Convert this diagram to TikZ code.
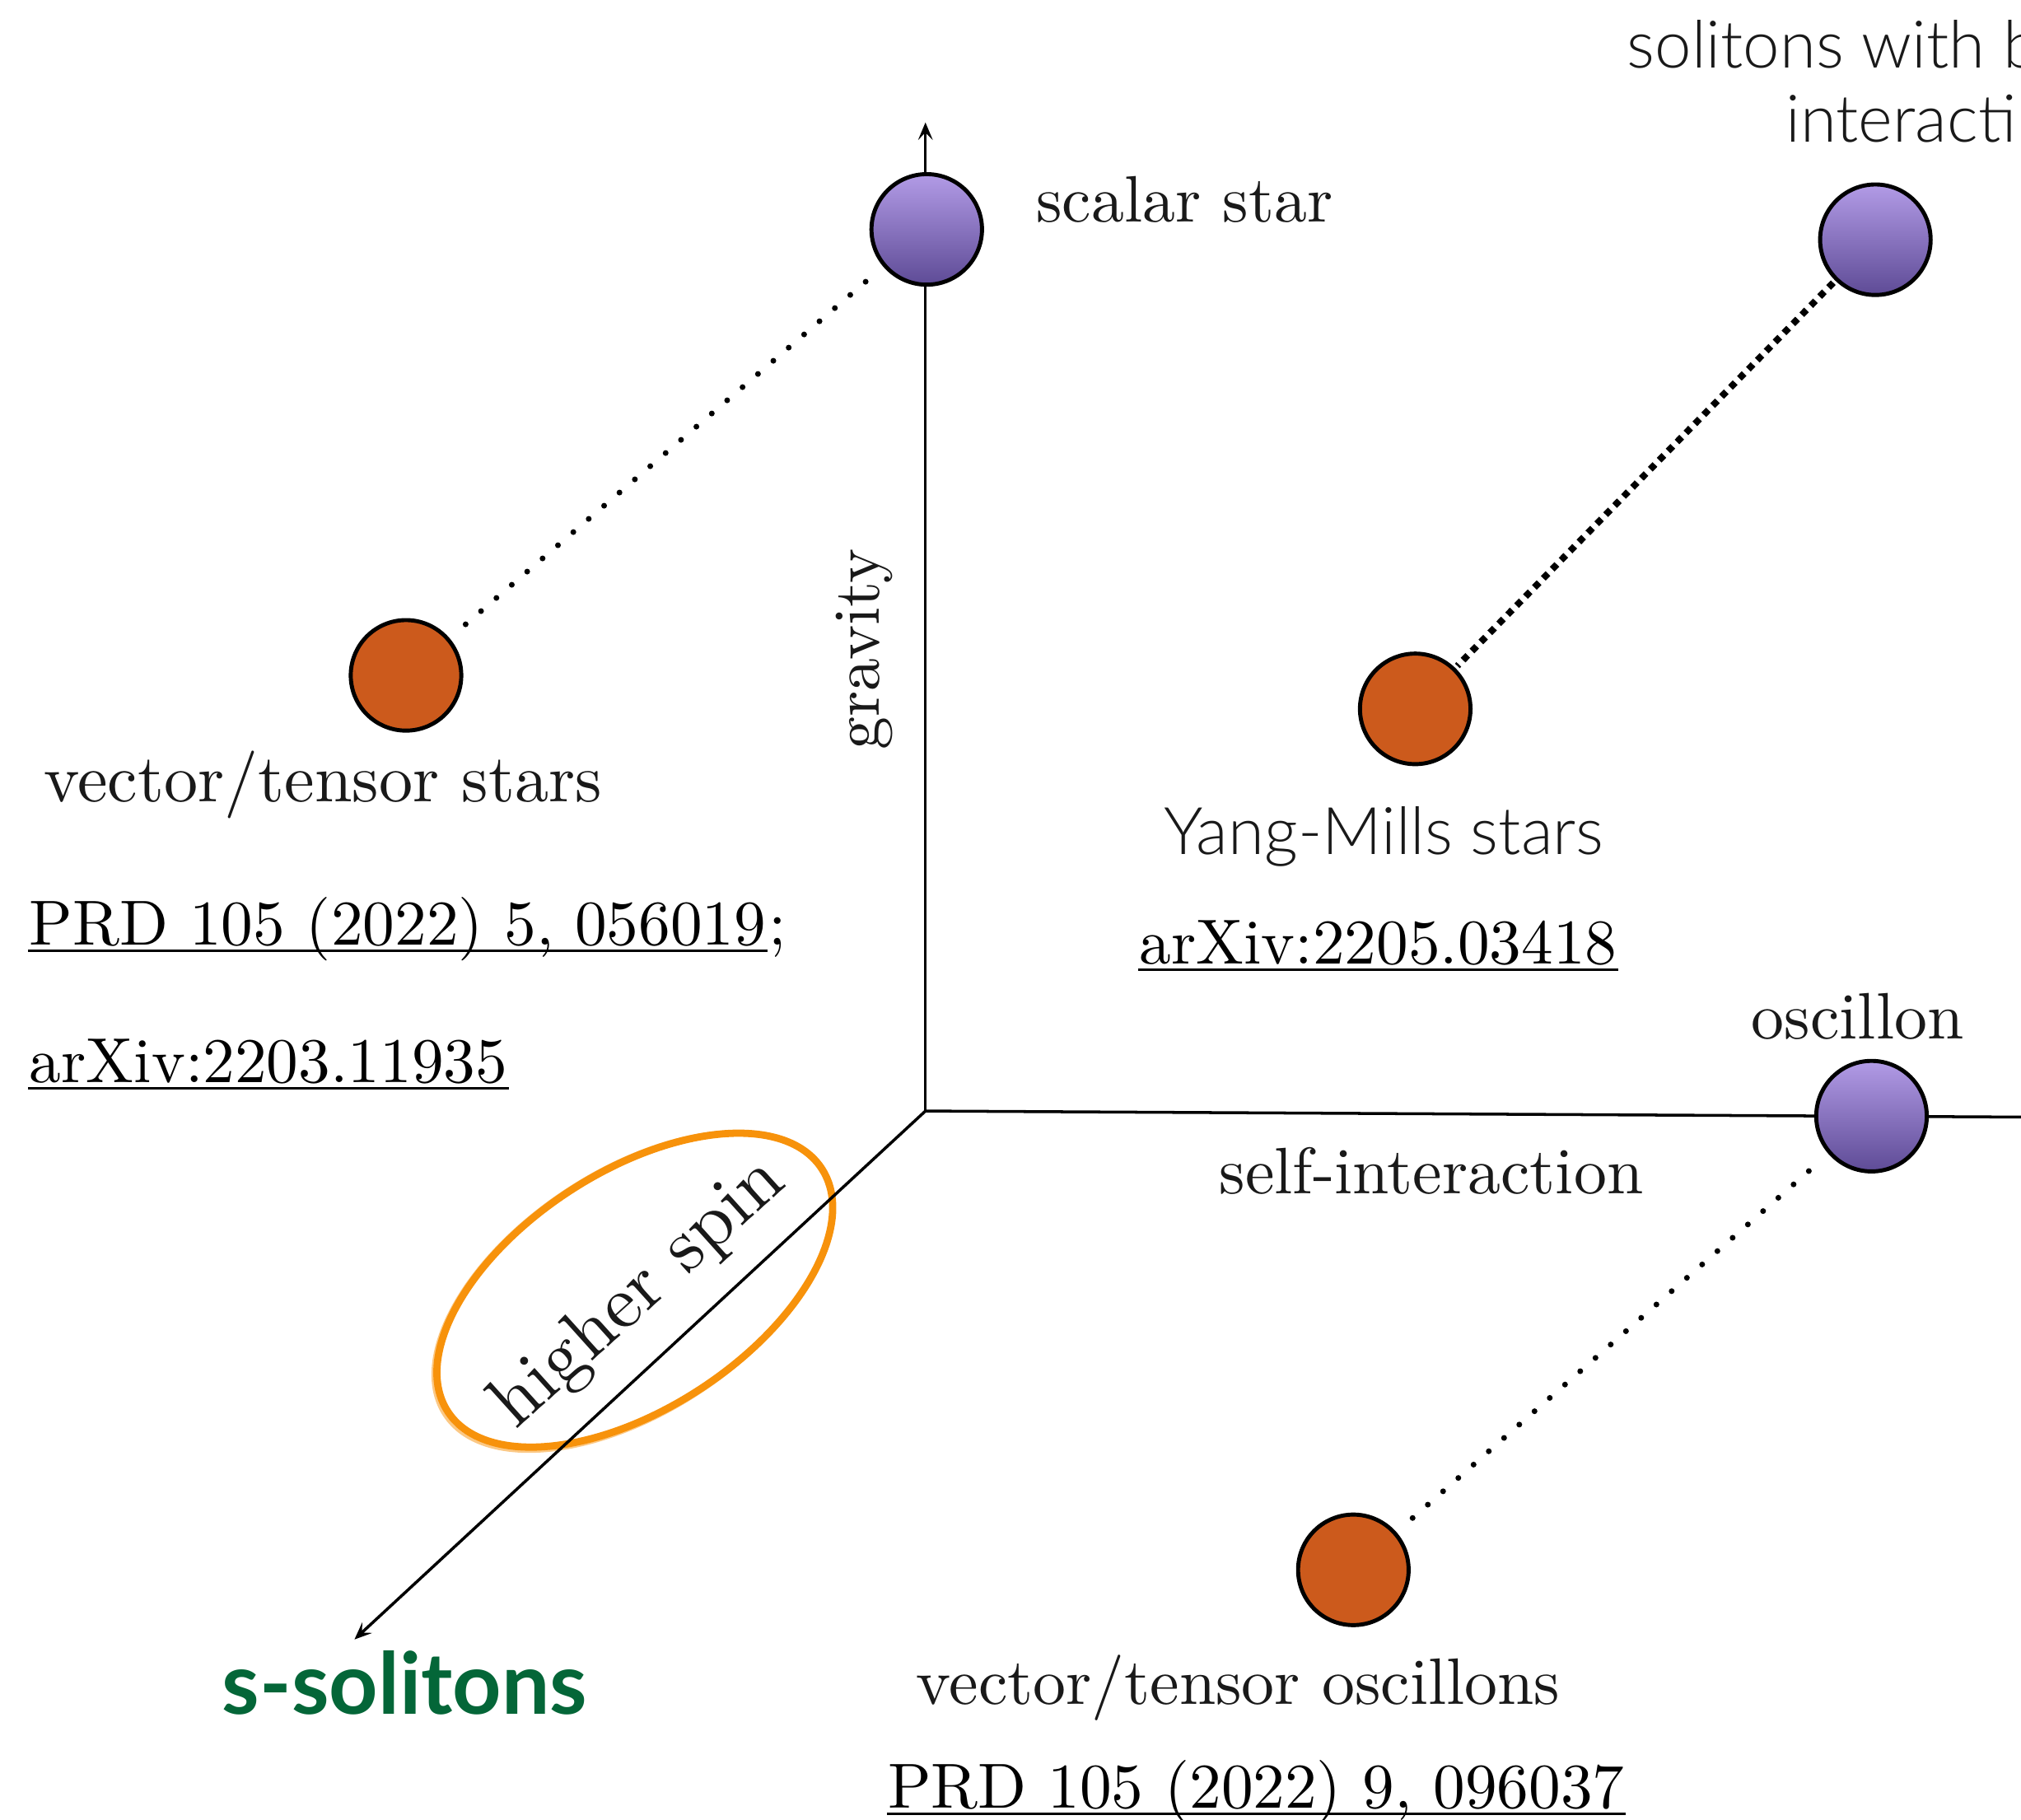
\documentclass[tikz,border=0pt]{standalone}
\usepackage{fontspec}
\IfFontExistsTF{Lato Light}{\newfontfamily\gillsans{Lato Light}}{%
  \IfFontExistsTF{Lato-Light}{\newfontfamily\gillsans{Lato-Light}}{%
    \IfFontExistsTF{Open Sans Light}{\newfontfamily\gillsans{Open Sans Light}}{%
      \newfontfamily\gillsans{Lato}}}}
\newfontfamily\gillbold{Lato}
\usetikzlibrary{arrows.meta}
\definecolor{lav}{RGB}{178,155,230}
\definecolor{lavdark}{RGB}{94,75,150}
\definecolor{rust}{RGB}{204,90,28}
\definecolor{marker}{RGB}{247,146,11}
\definecolor{sgreen}{RGB}{4,102,56}
\definecolor{ink}{RGB}{25,25,25}
\begin{document}
\begin{tikzpicture}[x=0.01565cm,y=-0.01565cm,
  purpleball/.style={circle,draw=black,line width=1.4pt,minimum size=38.2pt,inner sep=0pt,top color=lav,bottom color=lavdark},
  orangeball/.style={circle,draw=black,line width=1.4pt,minimum size=38.2pt,inner sep=0pt,fill=rust},
  lbl/.style={anchor=base west,inner sep=0pt,font=\fontsize{10}{12}\selectfont,scale=2.27,text=ink},
  ref/.style={anchor=base west,inner sep=0pt,font=\fontsize{10}{12}\selectfont,scale=2.2},
  sanslbl/.style={anchor=base west,inner sep=0pt,font=\gillsans\fontsize{22.7}{27}\selectfont,text=ink},
  axis/.style={line width=1pt},
  tip/.style={-{Stealth[length=6pt,width=5pt,inset=2.5pt]}},
  dots/.style={line width=2pt,line cap=round,dash pattern=on 0pt off 7pt},
  densedots/.style={line width=2.3pt,dash pattern=on 2.3pt off 2.1pt},
  uline/.style={line width=0.9pt},
  ring/.style={draw=marker,line width=2.5pt}
]
\useasboundingbox (0,0) rectangle (1568,1412);

% hand-drawn ring around the spin axis label
\draw[ring] (492.5,1001) ellipse [x radius=173, y radius=92, rotate=33];
\draw[draw=marker,line width=1pt,opacity=0.5] (491,1002) ellipse [x radius=175, y radius=94, rotate=33.3];

% the three axes
\coordinate (O) at (718,862);
\coordinate (gtip) at (718,95);
\coordinate (stip) at (275,1272);
\coordinate (sright) at (1620,867);
\draw[axis,tip] (O) -- (gtip);
\draw[axis] (O) -- (sright);
\draw[axis,tip] (O) -- (stip);

% solutions
\node[purpleball] (ss) at (719,178) {};
\node[purpleball] (bi) at (1455,186) {};
\node[purpleball] (osc) at (1452,866) {};
\node[orangeball] (vts) at (315,524) {};
\node[orangeball] (ym) at (1098,550) {};
\node[orangeball] (vto) at (1050,1218) {};

% higher-spin counterparts
\draw[dots,shorten <=8pt,shorten >=1pt] (ss) -- (vts);
\draw[densedots,shorten <=1pt,shorten >=1pt] (bi) -- (ym);
\draw[dots,shorten <=9pt,shorten >=3pt] (osc) -- (vto);

% labels
\node[lbl] (sslbl) at (803,172) {scalar star};
\node[sanslbl] (sol1) at (1262,53) {solitons with b};
\node[sanslbl] (sol2) at (1385,110) {interacti};
\node[lbl,scale=1.03] (vtslbl) at (33,622) {vector/tensor stars};
\node[ref] (prd1) at (22,733) {PRD 105 (2022) 5, 056019};
\node[ref] (semi) at (prd1.base east) {;};
\draw[uline] ([yshift=-2pt]prd1.base west) -- ([yshift=-2pt]prd1.base east);
\node[ref] (arx1) at (22,840) {arXiv:2203.11935};
\draw[uline] ([yshift=-2pt]arx1.base west) -- ([yshift=-2pt]arx1.base east);
\node[lbl,rotate=90] (grav) at (682,583) {gravity};
\node[sanslbl] (ymlbl) at (903,663) {Yang-Mills stars};
\node[ref] (arx2) at (883,748) {arXiv:2205.03418};
\draw[uline] ([yshift=-2pt]arx2.base west) -- ([yshift=-2pt]arx2.base east);
\node[lbl] (osclbl) at (1358,806) {oscillon};
\node[lbl] (silbl) at (945,926) {self-interaction};
\node[lbl] (vtolbl) at (710,1322) {vector/tensor oscillons};
\node[ref] (prd2) at (688,1403) {PRD 105 (2022) 9, 096037};
\draw[uline] ([yshift=-2pt]prd2.base west) -- ([yshift=-2pt]prd2.base east);
\node[anchor=base west,inner sep=0pt,font=\gillbold\bfseries\fontsize{29.5}{33}\selectfont,text=sgreen] (slit) at (172,1330) {s-solitons};
\node[lbl,anchor=center,rotate=42,scale=1.15] (hs) at (496,1004) {higher spin};
\end{tikzpicture}
\end{document}
